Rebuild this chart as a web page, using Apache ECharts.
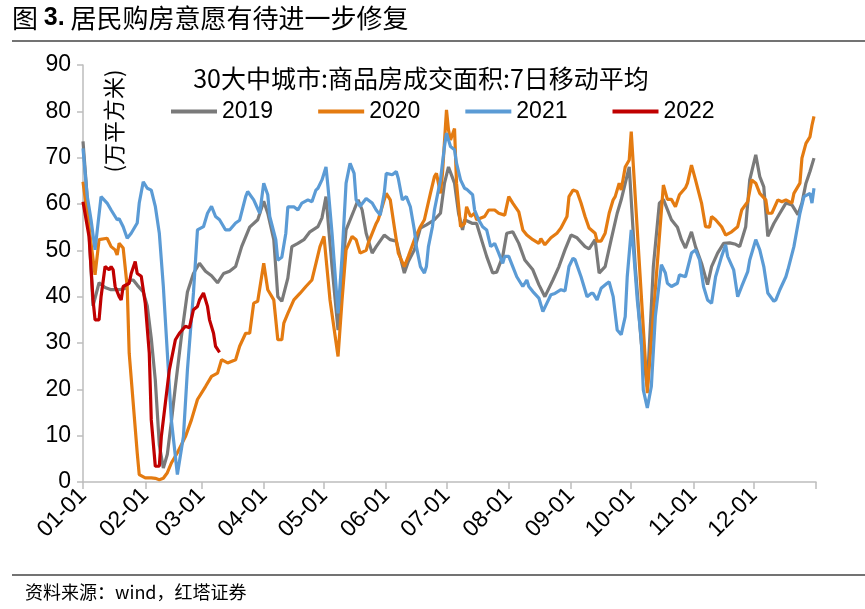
<!DOCTYPE html>
<html>
<head>
<meta charset="utf-8">
<script src="https://cdn.jsdelivr.net/npm/echarts@6/dist/echarts.min.js"></script>
<style>
html,body{margin:0;padding:0;background:#fff;}
#chart{width:865px;height:609px;}
</style>
</head>
<body>
<div id="chart"></div>
<script>
// ---- data: [day of year (0 = 01-01), value in 万平方米] ----
const monthDays = [31,28,31,30,31,30,31,31,30,31,30,31];
const seriesNames = ['2019','2020','2021','2022'];
const yTicks = [0,10,20,30,40,50,60,70,80,90];

const s2019 = [[0,73.5],[2,62],[5,38],[8,43],[11,42],[14,41.5],[18,41.5],[21,41.8],[23,43.5],[25,43.6],[27,42.5],[30,41],[32,38],[34,31],[36,22],[38,8],[40,3],[42,6],[44,13],[46,20.6],[49,31.4],[52,41],[55,45],[58,47.2],[61,45.5],[64,44.5],[67,43],[70,45],[73,45.5],[76,46.5],[79,50.8],[83,55],[87,56.6],[90,60.6],[92,58],[95,52.3],[97,40],[99,39],[102,44],[104,50.8],[107,51.5],[110,52.3],[113,54],[117,55.1],[119,57],[121,61.6],[124,46.5],[127,32.8],[129,45],[131,54.4],[135,58.7],[137,60.9],[139,58.7],[141,53.7],[144,49.4],[146,50.8],[150,53.3],[153,52.3],[156,52],[160,45.1],[162,47.6],[165,50.1],[168,54.8],[171,55.5],[175,56.6],[178,58],[180,64.5],[182,68],[185,64.5],[187,58],[189,54.4],[190,56.6],[194,55.8],[196,55.8],[199,51.5],[201,48.7],[204,45.1],[206,45.3],[209,48.7],[211,53.7],[214,54],[217,51.5],[220,47.9],[224,45.8],[227,42.6],[230,40],[234,43.6],[237,46.5],[240,50.1],[243,53.3],[246,52.7],[250,50.8],[252,50.3],[255,52.3],[257,45.1],[260,46.5],[263,52.3],[266,58],[268,60.9],[272,68],[275,46.5],[278,30],[281,20.6],[284,46.5],[287,60.2],[289,61],[293,56.6],[296,55],[298,52.3],[300,50.5],[303,54],[305,50.8],[308,47.2],[311,42.6],[313,46.5],[316,49.4],[319,51.5],[322,51.6],[325,51.3],[327,50.8],[330,55.1],[332,65.2],[335,70.6],[337,65.9],[339,63.7],[341,53],[344,55.8],[347,58],[350,60.2],[353,59.8],[356,57.7],[358,60.2],[360,64.5],[362,67],[364,69.9]];

const s2020 = [[0,64.8],[3,55],[6,44.7],[8,52.3],[12,52.6],[14,50.8],[16,50.1],[17,49],[18,51.5],[20,50.5],[22,42.2],[23,27.8],[25,17],[27,6.3],[28,1.6],[31,0.9],[34,0.9],[36,0.8],[38,0.5],[40,0.8],[42,2],[44,4.1],[47,6.3],[51,9.8],[54,13.4],[57,17.8],[61,20.6],[64,22.8],[67,23.5],[69,26.4],[72,25.7],[76,26.4],[78,29.3],[81,32.1],[83,32.1],[85,38.6],[87,39],[90,47.2],[92,41.5],[95,39.3],[97,30.7],[99,30.7],[100,34.3],[102,36.4],[105,39.3],[108,40.7],[111,42.2],[114,43.6],[116,47.2],[118,50.8],[120,53],[123,39.3],[127,27.1],[129,39.3],[131,50.1],[134,53],[136,52.3],[138,49.4],[141,50],[142,51.5],[146,55.8],[147,56.6],[151,62.3],[153,60.9],[155,55.1],[157,49.4],[160,46.5],[162,48.7],[165,52.3],[168,55.1],[170,56.6],[173,62.3],[175,65.9],[176,66.6],[178,62.3],[179,66.6],[181,80.3],[182,76],[183,73.8],[185,76.3],[186,64.5],[188,55.1],[190,55.8],[191,59.4],[193,57.3],[195,58],[196,56.6],[200,57.3],[202,58.7],[205,58.7],[207,58],[210,57.6],[212,61.6],[214,60.2],[217,58.3],[219,54.4],[221,53.3],[224,52.3],[227,51.5],[228,52.5],[230,51.2],[233,52.7],[236,53.7],[238,54.8],[241,57.3],[242,61.6],[244,63],[246,62.7],[248,60.2],[250,57.3],[252,54.8],[255,53.7],[256,52],[258,52],[260,53.7],[262,58],[264,60.9],[265,61.6],[267,64.5],[268,63],[270,68],[272,69.5],[273,75.6],[281,19.2],[289,64.1],[291,61],[293,61],[295,59.4],[297,62],[300,63.5],[301,64.5],[303,68.4],[305,65.2],[308,60.2],[310,55.1],[312,55],[313,57.3],[315,56.6],[318,55.1],[320,53.3],[323,54],[326,55.1],[328,58.7],[331,60.5],[333,65.2],[335,64.5],[337,62.3],[340,60.9],[341,58],[343,58],[346,60.9],[348,60.5],[350,60.9],[353,60.2],[354,62.3],[357,64.5],[358,69.9],[360,73.1],[362,74.5],[363,77],[364,78.9]];

const s2021 = [[0,72],[2,62],[4,56.6],[6,50.1],[9,61.6],[12,60.2],[14,58.7],[17,56.6],[18,56.8],[20,55.1],[22,52.6],[24,53.7],[27,55.9],[28,60.2],[30,64.8],[32,63.4],[34,63],[36,59.5],[38,53.7],[40,42.2],[42,27.8],[44,13.4],[47,1.6],[50,9.8],[52,24.2],[55,40.8],[57,54.4],[60,55.1],[62,58],[64,59.5],[66,57.3],[68,56.6],[71,54.4],[73,54.4],[76,55.9],[78,56.5],[81,61.6],[82,62.7],[85,60.9],[88,58],[90,64.5],[92,62],[93,57.3],[96,52.3],[97,47.9],[99,48.5],[101,53.7],[102,59.4],[105,59.4],[107,58.7],[109,60.2],[112,60.9],[114,60.5],[116,63],[117,63.4],[119,65.2],[121,68],[122,63.7],[124,53.7],[127,36.4],[129,48.7],[131,64.5],[133,68.8],[135,66.6],[136,60.9],[138,59.5],[141,61.2],[144,60.2],[146,58.7],[148,57.6],[150,62.3],[151,66.6],[154,66.3],[156,67],[157,65.5],[159,60.9],[161,61.6],[163,59.4],[165,54.4],[166,50.8],[168,46.5],[170,45.1],[171,46.5],[172,50.8],[174,55.1],[175,58.7],[178,65.2],[180,72.4],[181,75.3],[183,72.4],[185,71.7],[186,68.8],[188,65.2],[190,63.4],[191,63.2],[194,62],[195,58.7],[197,56.6],[199,55.1],[201,54.4],[203,50.8],[205,51.5],[207,49.4],[209,47.2],[210,48.7],[212,48.7],[214,46.5],[216,44.3],[219,42.2],[221,43.6],[222,42.2],[224,41.1],[227,39.7],[229,36.8],[231,38.6],[233,40.4],[235,40.7],[238,41.5],[240,41.2],[242,46.5],[244,48.3],[245,48],[248,44.3],[251,40],[253,40.7],[254,40.7],[256,39.3],[258,41.8],[261,42.9],[262,43.2],[264,40],[266,32.8],[268,31.8],[270,35.7],[271,44.3],[273,54.4],[274,50.8],[276,39.3],[278,30.7],[279,19.9],[281,16],[283,20.6],[285,35.7],[288,46.9],[290,45.1],[291,42.9],[293,42.2],[296,42.9],[297,44.7],[300,44.3],[303,49.4],[305,50.1],[307,48],[309,42.2],[311,39.3],[313,38.6],[315,44.3],[318,48.7],[320,51.2],[321,48.7],[324,45.8],[326,40],[328,42.2],[331,45.4],[332,47.9],[335,52.3],[337,50.1],[339,46.5],[341,40.8],[344,39],[345,39.3],[347,41.5],[350,44.3],[351,45.8],[354,50.8],[357,58],[359,61.6],[362,62.3],[363,60.2],[364,63.4]];

const s2022 = [[0,60.5],[3,53],[5,39.3],[6,35],[8,35],[9,40],[11,46.5],[13,45.8],[14,46.5],[15,45.8],[16,42.2],[18,40],[19,39.3],[20,42.2],[23,42.9],[24,45],[26,47.6],[27,45],[29,44.4],[31,38.6],[33,27.8],[34,13.4],[36,3.4],[38,3.4],[39,9.8],[41,17],[43,24.2],[46,30.7],[48,32.1],[51,33.6],[53,33.3],[55,37.2],[57,37.9],[58,39.3],[60,40.8],[62,37.9],[63,35],[65,32.1],[66,29.3],[68,28]];

// ---- categories: every day of the year, plus the axis end ----
const categories = [];
const monthStarts = new Set();
monthDays.forEach((n, m) => {
  monthStarts.add(categories.length);
  for (let d = 1; d <= n; d++) {
    categories.push(String(m + 1).padStart(2, '0') + '-' + String(d).padStart(2, '0'));
  }
});
categories.push('');
const lastIdx = categories.length - 1;

const colors = ['#7a7a7a', '#e47b11', '#5b9bd5', '#c00000'];
const allData = [s2019, s2020, s2021, s2022];

const chart = echarts.init(document.getElementById('chart'), null, {renderer: 'canvas'});
const option = {
  backgroundColor: '#fff',
  animation: false,
  textStyle: {fontFamily: 'Liberation Sans, Arial, Noto Sans CJK SC, sans-serif'},
  grid: {left: 83, right: 49, top: 65, bottom: 127, containLabel: false},
  legend: {
    data: seriesNames,
    left: 166, top: 95,
    icon: 'rect', itemWidth: 46, itemHeight: 4, itemGap: 45,
    textStyle: {fontSize: 23, color: '#000', fontFamily: 'Liberation Sans, Arial, sans-serif'}
  },
  xAxis: {
    type: 'category',
    data: categories,
    boundaryGap: false,
    axisLine: {lineStyle: {color: '#bdbdbd', width: 1.5}},
    axisTick: {
      show: true, length: 7,
      interval: (i) => monthStarts.has(i) || i === lastIdx,
      lineStyle: {color: '#bdbdbd', width: 1.5}
    },
    axisLabel: {
      interval: (i) => monthStarts.has(i),
      rotate: 45, fontSize: 23, color: '#000', margin: 10,
      fontFamily: 'Liberation Sans, Arial, sans-serif'
    },
    splitLine: {show: false}
  },
  yAxis: {
    type: 'value',
    min: 0, max: 90, interval: 10,
    axisLine: {show: true, lineStyle: {color: '#bdbdbd', width: 1.5}},
    axisTick: {show: true, length: 6, lineStyle: {color: '#bdbdbd', width: 1.5}},
    axisLabel: {fontSize: 23, color: '#000', margin: 12, fontFamily: 'Liberation Sans, Arial, sans-serif'},
    splitLine: {show: false}
  },
  series: seriesNames.map((name, k) => ({
    name: name,
    type: 'line',
    data: allData[k],
    showSymbol: false,
    symbol: 'none',
    smooth: false,
    color: colors[k],
    lineStyle: {width: 3.2, color: colors[k]},
    z: 2 + k
  })),
  graphic: [
    {
      type: 'text', left: 12, top: 5,
      style: {
        text: '{a|图 }{b|3.}{a| 居民购房意愿有待进一步修复}',
        rich: {
          a: {fontSize: 26, fontFamily: 'Noto Sans CJK SC', fill: '#000'},
          b: {fontSize: 25, fontWeight: 'bold', fontFamily: 'Liberation Sans, Arial', fill: '#000'}
        }
      }
    },
    {type: 'line', shape: {x1: 12, y1: 41, x2: 865, y2: 41}, style: {stroke: '#444', lineWidth: 1.5}},
    {type: 'line', shape: {x1: 12, y1: 575, x2: 865, y2: 575}, style: {stroke: '#444', lineWidth: 1.5}},
    {
      type: 'text', left: 25, top: 583,
      style: {text: '资料来源：wind，红塔证券', fontSize: 18, fontFamily: 'Noto Sans CJK SC', fill: '#000'}
    },
    {
      type: 'text', x: 421, y: 78,
      style: {
        text: '30大中城市:商品房成交面积:7日移动平均',
        fontSize: 25, fontFamily: 'Noto Sans CJK SC', fill: '#000',
        align: 'center', verticalAlign: 'middle'
      }
    },
    {
      type: 'text', x: 114, y: 121, rotation: Math.PI / 2,
      style: {
        text: '(万平方米)', fontSize: 22, fontFamily: 'Noto Sans CJK SC', fill: '#000',
        align: 'center', verticalAlign: 'middle'
      }
    }
  ]
};
chart.setOption(option);
</script>
</body>
</html>
